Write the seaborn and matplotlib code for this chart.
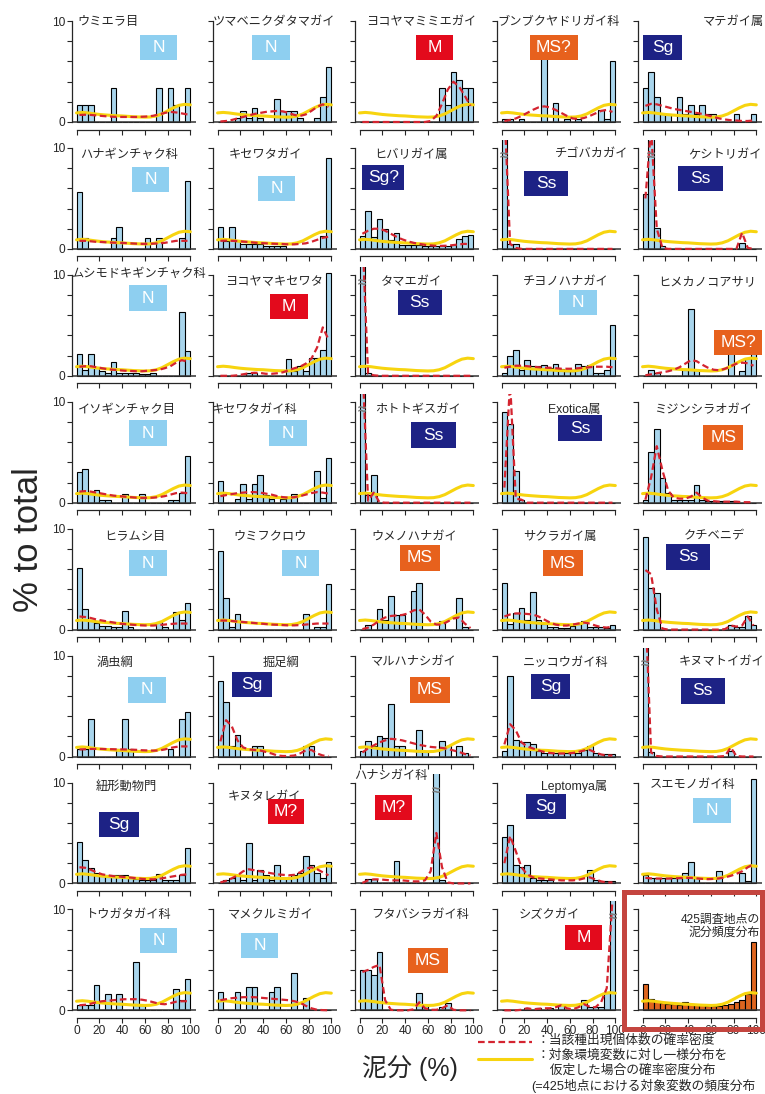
import matplotlib
matplotlib.use('Agg')
import matplotlib.pyplot as plt
from matplotlib.patches import Rectangle
from matplotlib.lines import Line2D
import seaborn as sns

# ---------------- data ----------------
bin_edges = list(range(0, 105, 5))
bin_centers = [2.5 + 5 * i for i in range(20)]
x_ticks = [0, 20, 40, 60, 80, 100]
y_ticks = [0, 2, 4, 6, 8, 10]

# density assuming uniform distribution over the environmental variable (same in all panels)
yellow_x = list(range(0, 105, 5))
yellow_y = [0.9, 0.95, 0.9, 0.82, 0.75, 0.7, 0.66, 0.62, 0.6, 0.56, 0.52,
            0.5, 0.48, 0.5, 0.6, 0.8, 1.1, 1.4, 1.65, 1.75, 1.7]

titles_r1 = ["ウミエラ目", "ツマベニクダタマガイ", "ヨコヤマミミエガイ", "ブンブクヤドリガイ科", "マテガイ属"]
types_r1 = ["N", "N", "M", "MS?", "Sg"]
bars_r1 = [
    [1.7, 1.7, 1.7, 0, 0, 0, 3.4, 0, 0, 0, 0, 0, 0, 0, 3.4, 0, 3.4, 1.7, 0, 3.4],
    [0, 0, 0, 0.4, 1.1, 0.4, 1.4, 0.4, 0, 0, 2.3, 1.1, 1.1, 1.1, 0.4, 0, 0, 0.4, 2.5, 5.5],
    [0, 0, 0, 0, 0, 0, 0, 0, 0, 0, 0, 0, 0, 0, 3.4, 1.7, 5.0, 4.2, 3.4, 3.4],
    [0.3, 0.3, 0, 0.3, 0, 0, 0, 7.5, 0, 1.9, 0, 0.3, 0, 0.3, 0, 0, 0, 1.2, 0.3, 6.0],
    [3.4, 5.0, 2.5, 0.8, 0.8, 0, 2.5, 0.8, 1.7, 0.8, 1.7, 0.8, 0.8, 0, 0, 0, 0.8, 0, 0, 0.8],
]
red_r1 = [
    [0.7, 0.72, 0.7, 0.65, 0.6, 0.55, 0.52, 0.5, 0.5, 0.5, 0.5, 0.52, 0.55, 0.62, 0.75, 0.9, 1.0, 0.95, 0.85, 0.75],
    [0.05, 0.1, 0.2, 0.35, 0.5, 0.65, 0.8, 0.9, 1.0, 1.05, 1.1, 1.05, 0.9, 0.7, 0.6, 0.75, 1.1, 1.5, 1.75, 1.5],
    [0, 0, 0, 0, 0, 0, 0, 0, 0, 0, 0, 0, 0.1, 0.6, 1.8, 3.2, 4.0, 3.5, 2.6, 1.6],
    [0.1, 0.2, 0.35, 0.6, 0.9, 1.2, 1.45, 1.55, 1.45, 1.2, 0.9, 0.6, 0.35, 0.3, 0.4, 0.6, 0.85, 1.1, 1.2, 1.0],
    [1.6, 1.8, 1.75, 1.6, 1.45, 1.3, 1.2, 1.1, 1.0, 0.9, 0.8, 0.65, 0.5, 0.35, 0.25, 0.18, 0.15, 0.1, 0.1, 0.15],
]

titles_r2 = ["ハナギンチャク科", "キセワタガイ", "ヒバリガイ属", "チゴバカガイ", "ケシトリガイ"]
types_r2 = ["N", "N", "Sg?", "Ss", "Ss"]
bars_r2 = [
    [5.6, 1.1, 0, 0, 0, 0, 1.1, 2.2, 0, 0, 0, 0, 1.1, 0, 1.1, 0, 0, 0, 1.1, 6.7],
    [2.2, 0.8, 2.2, 0.8, 0.5, 0.5, 0.5, 0.5, 0.3, 0.3, 0.3, 0.3, 0, 0, 0, 0, 0, 0, 1.3, 9.0],
    [1.3, 3.8, 1.2, 3.0, 2.0, 0.9, 1.6, 0.4, 0.4, 0.4, 0.4, 0.3, 0.3, 0.3, 0.3, 0.3, 0.4, 1.0, 1.3, 1.4],
    [14, 0.5, 0.5, 0, 0, 0, 0, 0, 0, 0, 0, 0, 0, 0, 0, 0, 0, 0, 0, 0],
    [5.4, 14, 2.1, 0.3, 0, 0, 0, 0, 0, 0, 0, 0, 0, 0, 0, 0, 0, 0.6, 0, 0],
]
red_r2 = [
    [0.8, 0.8, 0.75, 0.7, 0.68, 0.65, 0.62, 0.6, 0.58, 0.55, 0.52, 0.5, 0.5, 0.52, 0.55, 0.6, 0.7, 0.8, 0.8, 0.8],
    [0.8, 0.82, 0.8, 0.78, 0.72, 0.68, 0.62, 0.58, 0.55, 0.52, 0.5, 0.48, 0.45, 0.45, 0.5, 0.55, 0.7, 0.9, 1.1, 1.2],
    [1.5, 1.8, 2.0, 2.0, 1.8, 1.5, 1.2, 0.95, 0.75, 0.6, 0.5, 0.4, 0.35, 0.3, 0.3, 0.32, 0.38, 0.45, 0.5, 0.45],
    [14, 0.5, 0.1, 0, 0, 0, 0, 0, 0, 0, 0, 0, 0, 0, 0, 0, 0, 0, 0, 0],
    [5.0, 12, 2.0, 0.1, 0, 0, 0, 0, 0, 0, 0, 0, 0, 0, 0, 0, 0, 1.6, 0.1, 0],
]

titles_r3 = ["ムシモドキギンチャク科", "ヨコヤマキセワタ", "タマエガイ", "チヨノハナガイ", "ヒメカノコアサリ"]
types_r3 = ["N", "M", "Ss", "N", "MS?"]
bars_r3 = [
    [2.2, 0.6, 2.2, 0.9, 0.5, 0.3, 1.4, 0.3, 0.3, 0.3, 0.3, 0.2, 0.2, 0.3, 0, 0, 0, 0, 6.3, 2.5],
    [0, 0, 0, 0, 0, 0.3, 0.3, 0, 0, 0, 0, 0, 1.7, 0.5, 1.0, 0.5, 1.8, 1.8, 2.6, 10.2],
    [14, 0.3, 0, 0, 0, 0, 0, 0, 0, 0, 0, 0, 0, 0, 0, 0, 0, 0, 0, 0],
    [0.3, 2.0, 2.6, 0.6, 1.6, 1.0, 1.0, 1.1, 0.8, 1.2, 0.7, 0.5, 0.5, 1.2, 1.0, 1.1, 0.3, 0.3, 0.6, 5.0],
    [0, 0.6, 0.3, 0, 0, 0, 0, 0.6, 6.6, 0.6, 0, 0, 0, 0, 0, 4.3, 0, 0.5, 1.8, 2.5],
]
red_r3 = [
    [0.9, 0.95, 0.95, 0.85, 0.75, 0.65, 0.6, 0.55, 0.5, 0.48, 0.45, 0.45, 0.5, 0.55, 0.6, 0.75, 0.95, 1.3, 1.55, 1.4],
    [0, 0, 0, 0.05, 0.15, 0.25, 0.3, 0.28, 0.2, 0.2, 0.25, 0.35, 0.55, 0.75, 0.9, 1.2, 1.7, 2.8, 4.8, 3.6],
    [14, 0.2, 0.05, 0, 0, 0, 0, 0, 0, 0, 0, 0, 0, 0, 0, 0, 0, 0, 0, 0],
    [0.8, 0.9, 1.0, 1.0, 0.95, 0.9, 0.85, 0.8, 0.8, 0.75, 0.7, 0.7, 0.7, 0.75, 0.8, 0.85, 0.9, 0.9, 0.9, 0.85],
    [0.05, 0.15, 0.25, 0.35, 0.45, 0.6, 0.85, 1.2, 1.55, 1.45, 1.1, 0.8, 0.6, 0.55, 0.7, 0.95, 1.2, 1.3, 1.25, 1.0],
]

titles_r4 = ["イソギンチャク目", "キセワタガイ科", "ホトトギスガイ", "Exotica属", "ミジンシラオガイ"]
types_r4 = ["N", "N", "Ss", "Ss", "MS"]
bars_r4 = [
    [3.0, 3.3, 1.0, 1.3, 0.3, 0.3, 0, 0, 0.9, 0, 0, 0.9, 0, 0, 0, 0, 0.3, 0.3, 1.0, 4.6],
    [2.2, 0, 0, 0.4, 1.9, 0.4, 1.9, 2.7, 0.8, 0.4, 0, 0.4, 0.5, 0.9, 0, 0, 0, 3.1, 0.5, 4.4],
    [14, 0.8, 2.7, 0, 0, 0, 0, 0, 0, 0, 0, 0, 0, 0, 0, 0, 0, 0, 0, 0],
    [9.0, 7.8, 3.1, 0.3, 0, 0, 0, 0, 0, 0, 0, 0, 0, 0, 0, 0, 0, 0, 0, 0],
    [0.3, 5.0, 7.3, 2.4, 1.0, 0.3, 0.3, 0.3, 0.3, 1.8, 0.3, 0.2, 0.2, 0.2, 0.2, 0.2, 0.2, 0, 0, 0],
]
red_r4 = [
    [1.1, 1.15, 1.1, 1.0, 0.9, 0.8, 0.7, 0.65, 0.6, 0.55, 0.5, 0.48, 0.48, 0.5, 0.55, 0.65, 0.8, 0.95, 1.0, 0.95],
    [0.65, 0.75, 0.85, 0.95, 1.0, 1.05, 1.05, 1.0, 0.9, 0.8, 0.65, 0.55, 0.5, 0.55, 0.65, 0.8, 0.95, 1.05, 1.0, 0.9],
    [14, 0.2, 1.0, 0.05, 0, 0, 0, 0, 0, 0, 0, 0, 0, 0, 0, 0, 0, 0, 0, 0],
    [1.5, 12, 0.4, 0.3, 0, 0, 0, 0, 0, 0, 0, 0, 0, 0, 0, 0, 0, 0, 0, 0],
    [0.3, 2.5, 5.6, 3.2, 1.2, 0.5, 0.4, 0.4, 0.6, 1.0, 0.5, 0.2, 0.15, 0.1, 0.1, 0.1, 0.1, 0.05, 0.05, 0.05],
]

titles_r5 = ["ヒラムシ目", "ウミフクロウ", "ウメノハナガイ", "サクラガイ属", "クチベニデ"]
types_r5 = ["N", "N", "MS", "MS", "Ss"]
bars_r5 = [
    [6.1, 2.0, 1.0, 0.7, 0.4, 0.4, 0.3, 0.3, 1.8, 0.3, 0, 0, 0, 0, 0.8, 0.3, 0, 1.7, 1.0, 2.6],
    [7.8, 3.1, 0.3, 1.5, 0, 0, 0, 0, 0, 0, 0, 0, 0, 0, 0, 1.5, 0, 0.3, 0.3, 4.5],
    [0, 0.5, 0, 2.0, 1.0, 3.3, 1.4, 1.4, 0, 3.8, 4.6, 0, 0, 0, 0.9, 0, 0, 3.1, 0.3, 0],
    [4.6, 0.6, 1.6, 2.1, 1.0, 3.7, 1.0, 0.6, 0.3, 0.3, 0.2, 0.2, 0.4, 0.6, 0.9, 0.3, 0.3, 0.3, 0.2, 0.5],
    [9.2, 4.1, 3.6, 0, 0, 0, 0, 0, 0, 0, 0, 0, 0, 0, 0, 0.5, 0.3, 0.3, 1.3, 0.5],
]
red_r5 = [
    [1.3, 1.25, 1.15, 1.0, 0.9, 0.8, 0.7, 0.6, 0.55, 0.5, 0.45, 0.42, 0.4, 0.4, 0.45, 0.5, 0.55, 0.6, 0.6, 0.6],
    [0.9, 0.9, 0.85, 0.8, 0.75, 0.7, 0.65, 0.6, 0.55, 0.5, 0.48, 0.45, 0.42, 0.42, 0.45, 0.5, 0.55, 0.6, 0.6, 0.6],
    [0.05, 0.2, 0.5, 0.9, 1.2, 1.35, 1.4, 1.45, 1.6, 1.9, 2.0, 1.5, 0.8, 0.5, 0.5, 0.8, 1.1, 1.2, 0.6, 0.15],
    [1.3, 1.5, 1.6, 1.6, 1.55, 1.5, 1.3, 1.0, 0.7, 0.5, 0.4, 0.4, 0.5, 0.6, 0.7, 0.6, 0.4, 0.25, 0.2, 0.3],
    [5.9, 5.5, 2.0, 0.1, 0, 0, 0, 0, 0, 0, 0, 0, 0, 0, 0.05, 0.4, 0.3, 0.4, 1.3, 0.4],
]

titles_r6 = ["渦虫綱", "掘足綱", "マルハナシガイ", "ニッコウガイ科", "キヌマトイガイ"]
types_r6 = ["N", "Sg", "MS", "Sg", "Ss"]
bars_r6 = [
    [0.7, 0.7, 3.7, 0, 0, 0, 0, 0.7, 3.7, 0.7, 0, 0, 0, 0, 0, 0, 0.7, 0, 3.7, 4.4],
    [7.5, 5.4, 1.0, 2.1, 0, 0, 1.0, 1.0, 0, 0, 0, 0, 0, 0, 0, 1.0, 1.0, 0, 0, 0],
    [0.5, 1.5, 1.0, 2.0, 1.8, 5.2, 1.0, 1.0, 0, 0, 2.6, 0.5, 0, 0, 1.5, 1.0, 0, 1.0, 0.3, 0],
    [0.5, 8.0, 1.6, 1.4, 1.4, 1.2, 0.5, 0.3, 0.3, 0.3, 0.3, 0.3, 0.3, 0.3, 0.6, 1.0, 0.3, 0.2, 0.2, 0.2],
    [14, 0.4, 0, 0, 0, 0, 0, 0, 0, 0, 0, 0, 0, 0, 0, 0.5, 0, 0, 0, 0],
]
red_r6 = [
    [0.7, 0.72, 0.75, 0.75, 0.75, 0.73, 0.72, 0.7, 0.7, 0.68, 0.66, 0.62, 0.6, 0.58, 0.6, 0.7, 0.85, 0.95, 1.0, 1.0],
    [1.5, 3.6, 3.0, 1.6, 0.9, 0.7, 0.65, 0.6, 0.45, 0.3, 0.1, 0.05, 0.05, 0.1, 0.3, 0.6, 0.65, 0.3, 0.1, 0.05],
    [0.4, 0.8, 1.1, 1.4, 1.6, 1.75, 1.7, 1.6, 1.45, 1.3, 1.15, 1.05, 0.95, 0.9, 0.85, 0.75, 0.6, 0.45, 0.25, 0.1],
    [1.2, 3.2, 2.6, 1.4, 1.0, 0.8, 0.6, 0.45, 0.35, 0.3, 0.3, 0.3, 0.35, 0.45, 0.6, 0.65, 0.4, 0.2, 0.1, 0.1],
    [15, 0.4, 0.05, 0, 0, 0, 0, 0, 0, 0, 0, 0, 0, 0, 0.05, 0.9, 0.05, 0, 0, 0],
]

titles_r7 = ["紐形動物門", "キヌタレガイ", "ハナシガイ科", "Leptomya属", "スエモノガイ科"]
types_r7 = ["Sg", "M?", "M?", "Sg", "N"]
bars_r7 = [
    [4.1, 2.3, 1.5, 1.0, 0.8, 0.8, 0.8, 0.8, 0.8, 0.5, 0.4, 0.3, 0.3, 0.3, 0.9, 0.3, 0.3, 0.3, 0.8, 3.5],
    [0, 0.3, 0.5, 0.8, 0.3, 4.0, 0.3, 1.3, 0.8, 0.3, 1.8, 0.5, 0.5, 0.8, 1.0, 2.7, 1.8, 1.0, 0.5, 2.1],
    [0, 0.4, 0.4, 0, 0, 0, 2.2, 0, 0, 0, 0, 0, 0, 14, 0.3, 0, 0, 0, 0, 0],
    [4.6, 5.8, 1.8, 1.6, 1.8, 0.5, 0.3, 0.3, 0.3, 0, 0, 0, 0, 0, 0, 1.3, 0.3, 0, 0.2, 0.2],
    [0.8, 0.5, 0.5, 0.5, 0.5, 0.5, 0.5, 1.0, 2.1, 0.5, 0, 0, 0, 1.2, 0, 0, 0, 1.0, 0.2, 10.3],
]
red_r7 = [
    [1.6, 1.55, 1.35, 1.1, 0.9, 0.8, 0.72, 0.68, 0.62, 0.58, 0.52, 0.45, 0.42, 0.4, 0.45, 0.55, 0.65, 0.75, 0.85, 0.9],
    [0.1, 0.25, 0.5, 0.8, 1.2, 1.4, 1.3, 1.2, 1.1, 1.0, 0.9, 0.85, 0.8, 0.85, 1.1, 1.45, 1.6, 1.4, 1.1, 0.8],
    [0.05, 0.3, 0.4, 0.4, 0.35, 0.3, 0.3, 0.3, 0.25, 0.2, 0.2, 0.3, 1.2, 5.0, 1.6, 0.1, 0, 0, 0, 0],
    [2.0, 4.7, 3.2, 1.6, 0.9, 0.6, 0.5, 0.45, 0.4, 0.35, 0.3, 0.3, 0.3, 0.35, 0.5, 0.6, 0.4, 0.2, 0.1, 0.1],
    [0.55, 0.5, 0.48, 0.48, 0.48, 0.5, 0.52, 0.55, 0.55, 0.5, 0.45, 0.42, 0.45, 0.5, 0.6, 0.75, 0.95, 1.2, 1.6, 1.9],
]

titles_r8 = ["トウガタガイ科", "マメクルミガイ", "フタバシラガイ科", "シズクガイ", "425調査地点の\n泥分頻度分布"]
types_r8 = ["N", "N", "MS", "M", None]
bars_r8 = [
    [0.5, 0.5, 0.5, 2.5, 0, 1.6, 0, 1.6, 0, 0, 4.8, 0.5, 0, 0, 0, 0, 0, 2.1, 1.0, 3.1],
    [1.8, 0, 0, 1.8, 0, 2.3, 2.3, 0, 0, 1.8, 2.3, 0, 0, 3.7, 0, 1.2, 0, 0, 0, 0],
    [4.0, 4.0, 3.5, 5.8, 0, 0, 0, 0, 0, 0, 1.7, 0.5, 0, 0, 0.3, 0.7, 0, 0, 0, 0],
    [0, 0, 0, 0, 0.2, 0, 0.2, 0, 0.2, 0, 0.5, 0, 0, 0, 1.0, 0.3, 0.3, 0.3, 1.8, 14],
    [2.6, 1.1, 0.9, 0.75, 0.6, 0.6, 0.55, 0.8, 0.6, 0.5, 0.5, 0.45, 0.4, 0.45, 0.55, 0.65, 0.8, 1.0, 1.6, 6.8],
]
red_r8 = [
    [0.5, 0.55, 0.65, 0.8, 0.9, 0.95, 1.0, 1.05, 1.1, 1.1, 1.1, 1.05, 0.95, 0.8, 0.65, 0.6, 0.7, 0.85, 0.9, 0.9],
    [1.0, 1.1, 1.2, 1.25, 1.3, 1.3, 1.3, 1.25, 1.2, 1.15, 1.1, 1.05, 1.0, 0.9, 0.75, 0.45, 0.2, 0.05, 0.02, 0],
    [3.8, 4.0, 4.3, 4.5, 1.0, 0.05, 0, 0, 0, 0.1, 0.8, 0.2, 0.05, 0.05, 0.2, 0.5, 0.05, 0, 0, 0],
    [0, 0, 0, 0.05, 0.2, 0.1, 0.15, 0.2, 0.2, 0.3, 0.5, 0.2, 0.1, 0.3, 0.6, 0.35, 0.3, 0.8, 2.2, 11],
    None,
]

legend_texts = ["：当該種出現個体数の確率密度",
                "：対象環境変数に対し一様分布を",
                "　仮定した場合の確率密度分布",
                "(=425地点における対象変数の頻度分布"]
ylabel_text = "% to total"
xlabel_text = "泥分 (%)"

# ---------------- layout / style ----------------
titles = [titles_r1, titles_r2, titles_r3, titles_r4, titles_r5, titles_r6, titles_r7, titles_r8]
types = [types_r1, types_r2, types_r3, types_r4, types_r5, types_r6, types_r7, types_r8]
bars = [bars_r1, bars_r2, bars_r3, bars_r4, bars_r5, bars_r6, bars_r7, bars_r8]
reds = [red_r1, red_r2, red_r3, red_r4, red_r5, red_r6, red_r7, red_r8]

title_pos = [
    [(1, 9.9), (-4, 9.9), (6, 9.9), (-4, 9.9), (53, 9.9)],
    [(3.5, 9.3), (9.5, 9.3), (12.5, 9.3), (47, 9.3), (40, 9.3)],
    [(-5, 10.1), (7, 9.3), (19, 9.3), (19, 9.3), (14, 9.3)],
    [(1, 9.2), (-5, 9.2), (14, 9.2), (41, 9.2), (10, 9.2)],
    [(24, 9.2), (14, 9.2), (10, 9.2), (19, 9.2), (36, 9.2)],
    [(18, 9.3), (40, 9.3), (10, 9.3), (19, 9.3), (32, 9.3)],
    [(17, 9.6), (9, 8.5), (-5, 10.6), (35, 9.6), (6, 9.8)],
    [(8, 9.4), (9, 9.4), (10, 9.4), (15, 9.4), (103, 9.6)],
]
box_pos = [
    [(72, 7.4), (47, 7.4), (66, 7.4), (46, 7.4), (17.5, 7.4)],
    [(65, 6.9), (52, 6.0), (21, 7.1), (39, 6.5), (51, 7.0)],
    [(63, 7.7), (63, 6.9), (53, 7.3), (67, 7.3), (84, 3.3)],
    [(63, 6.9), (62, 6.9), (65, 6.7), (69, 7.4), (71, 6.5)],
    [(63, 6.6), (73, 6.6), (53, 7.1), (54, 6.6), (40, 7.2)],
    [(62, 6.6), (30, 7.1), (62, 6.6), (43, 6.9), (53, 6.5)],
    [(37, 5.8), (60, 7.1), (30, 7.5), (39, 7.6), (61, 7.2)],
    [(72, 6.9), (37, 6.4), (60, 4.9), (72, 7.2), None],
]
type_color = {"N": "#8ecff0", "M": "#e30a1c", "M?": "#e30a1c", "MS": "#e7611d",
              "MS?": "#e7611d", "Sg": "#1d2285", "Sg?": "#1d2285", "Ss": "#1d2285"}
type_width = {"N": 33, "M": 33, "M?": 32, "MS": 35, "MS?": 42, "Sg": 35, "Sg?": 37, "Ss": 39}

W, H = 765, 1094
col_left = [72, 213, 355, 497, 638]
ax_w = 124
row_zero0 = 122
row_pitch = 126.9
px_per_y = 10.09
XLIM = (-4, 105)
YLIM = (-0.2, 10.8)

BAR_BLUE = "#a9d5ec"
BAR_ORANGE = "#de651f"
RED = "#d42430"
YELLOW = "#f7d40f"

sns.set_style("ticks")
plt.rcParams['font.family'] = ['Liberation Sans', 'Noto Sans CJK JP', 'DejaVu Sans']
plt.rcParams['axes.linewidth'] = 0.9

fig = plt.figure(figsize=(W / 100, H / 100), dpi=100)

for r in range(8):
    zero_px = row_zero0 + row_pitch * r
    bottom_px = zero_px + (0 - YLIM[0]) * px_per_y
    height_px = (YLIM[1] - YLIM[0]) * px_per_y
    for c in range(5):
        ax = fig.add_axes([col_left[c] / W, 1 - bottom_px / H, ax_w / W, height_px / H])
        heights = bars[r][c]
        is_total = (r == 7 and c == 4)
        sns.histplot(x=bin_centers, weights=heights, bins=bin_edges, ax=ax,
                     color=BAR_ORANGE if is_total else BAR_BLUE, edgecolor="black",
                     linewidth=0.8, alpha=1, zorder=2)
        ax.axhline(0, color="#333333", lw=1.1, zorder=2.5)
        sns.lineplot(x=yellow_x, y=yellow_y, ax=ax, color=YELLOW, lw=2.2, zorder=3)
        if reds[r][c] is not None:
            sns.lineplot(x=bin_centers, y=reds[r][c], ax=ax, color=RED, lw=1.6,
                         linestyle=(0, (3, 1.6)), zorder=4)
        # axis breaks for off-scale bars
        for xc, h in zip(bin_centers, heights):
            if h > YLIM[1]:
                ax.text(xc, 9.2, "≈", ha="center", va="center", fontsize=11,
                        color="#7a7a7a", fontweight="bold", zorder=5)
        ax.set_xlim(*XLIM)
        ax.set_ylim(*YLIM)
        ax.set_xlabel("")
        ax.set_ylabel("")
        for s in ["top", "right"]:
            ax.spines[s].set_visible(False)
        ax.spines["left"].set_bounds(0, 10)
        ax.spines["bottom"].set_bounds(0, 100)
        ax.spines["bottom"].set_position(("outward", 4))
        ax.set_xticks(x_ticks)
        ax.set_yticks(y_ticks)
        ax.tick_params(axis="both", direction="out", length=3.5, width=0.8, pad=1.5,
                       labelsize=8.6)
        if c == 0:
            ax.set_yticklabels(["0", "", "", "", "", "10"])
        else:
            ax.set_yticklabels([])
        if r == 7:
            ax.set_xticklabels([str(v) for v in x_ticks])
        else:
            ax.set_xticklabels([])
        ax.patch.set_alpha(0)
        # title
        tx, ty = title_pos[r][c]
        if is_total:
            ax.text(tx, ty, titles[r][c], ha="right", va="top", fontsize=8.6,
                    linespacing=1.15, zorder=6)
        else:
            ax.text(tx, ty, titles[r][c], ha="left", va="center", fontsize=8.8, zorder=6)
        # type box
        t = types[r][c]
        if t is not None:
            bx, by = box_pos[r][c]
            bw = type_width[t]
            bh = 2.5
            ax.add_patch(Rectangle((bx - bw / 2, by - bh / 2), bw, bh,
                                   facecolor=type_color[t], edgecolor="none", zorder=6))
            ax.text(bx, by, t, ha="center", va="center", color="white", fontsize=12.5,
                    family=["Liberation Sans Narrow", "Liberation Sans"], zorder=7)

# highlight box around the overall distribution panel
fig.patches.append(Rectangle((624 / W, 1 - 1029 / H), (762 - 624) / W, (1029 - 892) / H,
                             transform=fig.transFigure, fill=False, edgecolor="#c4453f",
                             lw=3.6, zorder=20))

fig.text(28 / W, 1 - 540 / H, ylabel_text, rotation=90, ha="center", va="center", fontsize=25)
fig.text(410 / W, 1 - 1068 / H, xlabel_text, ha="center", va="center", fontsize=18)

fig.lines.append(Line2D([478 / W, 532 / W], [1 - 1042 / H, 1 - 1042 / H], transform=fig.transFigure,
                        color=RED, lw=1.6, linestyle=(0, (3, 1.6))))
fig.lines.append(Line2D([478 / W, 532 / W], [1 - 1059 / H, 1 - 1059 / H], transform=fig.transFigure,
                        color=YELLOW, lw=2.2))
legend_xy = [(537, 1041), (537, 1056), (537, 1071), (531, 1086)]
for txt, (lx, ly) in zip(legend_texts, legend_xy):
    fig.text(lx / W, 1 - ly / H, txt, ha="left", va="center", fontsize=9.2)

fig.savefig("out.png", dpi=100)
